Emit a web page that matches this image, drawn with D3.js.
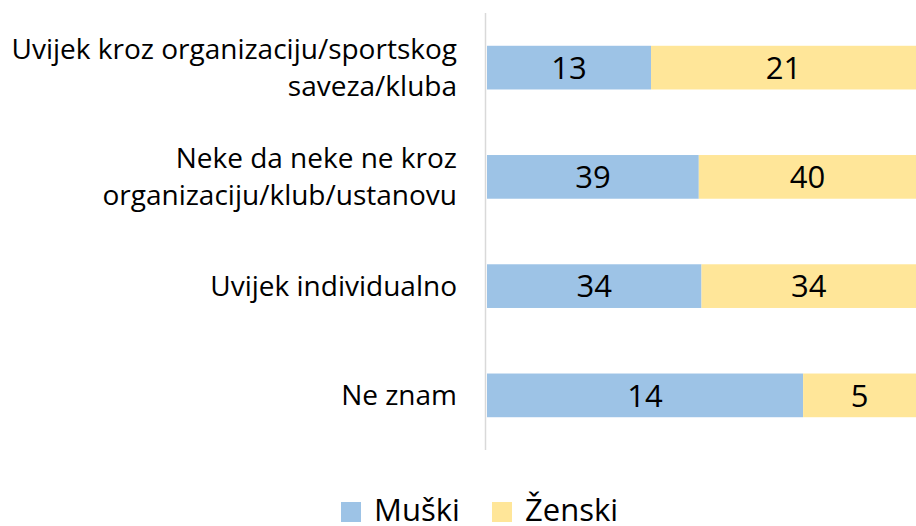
<!DOCTYPE html>
<html>
<head>
<meta charset="utf-8">
<script src="https://cdn.jsdelivr.net/npm/d3@7"></script>
<style>
  body { margin: 0; background: #fff; }
  svg { font-family: 'Open Sans', sans-serif; }
</style>
</head>
<body>
<div id="chart"></div>
<script>
// categories (top to bottom) and their wrapped tick labels
var categories = ['Uvijek kroz organizaciju', 'Neke da neke ne', 'Uvijek individualno', 'Ne znam']
var tickLabels = [
  ['Uvijek kroz organizaciju/sportskog', 'saveza/kluba'],
  ['Neke da neke ne kroz', 'organizaciju/klub/ustanovu'],
  ['Uvijek individualno'],
  ['Ne znam']
]
var seriesNames = ['Muški', 'Ženski']
var muski = [13, 39, 34, 14]
var zenski = [21, 40, 34, 5]
var colours = ['#9DC3E6', '#FFE699']

var width = 916, height = 526
var svg = d3.select('#chart').append('svg')
  .attr('width', width)
  .attr('height', height)

var y = d3.scaleBand()
  .domain(categories)
  .range([13, 450])
  .paddingInner(0.6)
  .paddingOuter(0.3)

var x = d3.scaleLinear().domain([0, 1]).range([487, 916])

var rows = categories.map((c, i) => {
  var total = muski[i] + zenski[i]
  return {
    cat: c,
    segs: [
      { v: muski[i], x0: 0, x1: muski[i] / total, s: 0 },
      { v: zenski[i], x0: muski[i] / total, x1: 1, s: 1 }
    ]
  }
})

var row = svg.selectAll('g.row')
  .data(rows)
  .enter()
  .append('g')
  .attr('class', 'row')

row.selectAll('rect')
  .data(d => d.segs.map(s => Object.assign({ cat: d.cat }, s)))
  .enter()
  .append('rect')
  .attr('x', d => x(d.x0))
  .attr('y', d => y(d.cat))
  .attr('width', d => x(d.x1) - x(d.x0))
  .attr('height', y.bandwidth())
  .attr('fill', d => colours[d.s])

row.selectAll('text.val')
  .data(d => d.segs.map(s => Object.assign({ cat: d.cat }, s)))
  .enter()
  .append('text')
  .attr('class', 'val')
  .attr('x', d => (x(d.x0) + x(d.x1)) / 2)
  .attr('y', d => y(d.cat) + y.bandwidth() / 2)
  .attr('dy', '0.36em')
  .attr('text-anchor', 'middle')
  .attr('font-size', 31)
  .attr('fill', '#000')
  .text(d => d.v)

// category axis line
svg.append('line')
  .attr('x1', 485.5).attr('x2', 485.5)
  .attr('y1', y.range()[0]).attr('y2', y.range()[1])
  .attr('stroke', '#D9D9D9')
  .attr('stroke-width', 1.5)

// category labels
var lineH = 37
categories.forEach((c, i) => {
  var lines = tickLabels[i]
  var cy = y(c) + y.bandwidth() / 2
  var t = svg.append('text')
    .attr('text-anchor', 'end')
    .attr('font-size', 28)
    .attr('fill', '#000')
  lines.forEach((l, j) => {
    t.append('tspan')
      .attr('x', 457)
      .attr('y', cy + (j - (lines.length - 1) / 2) * lineH)
      .attr('dy', '0.36em')
      .text(l)
  })
})

// legend
var legX = [341, 492]
var legend = svg.selectAll('g.leg')
  .data(seriesNames)
  .enter()
  .append('g')
  .attr('class', 'leg')
  .attr('transform', (d, i) => 'translate(' + legX[i] + ',502)')

legend.append('rect')
  .attr('width', 20)
  .attr('height', 20)
  .attr('fill', (d, i) => colours[i])

legend.append('text')
  .attr('x', 33)
  .attr('y', 19)
  .attr('font-size', 31)
  .attr('fill', '#000')
  .text(d => d)
</script>
</body>
</html>
